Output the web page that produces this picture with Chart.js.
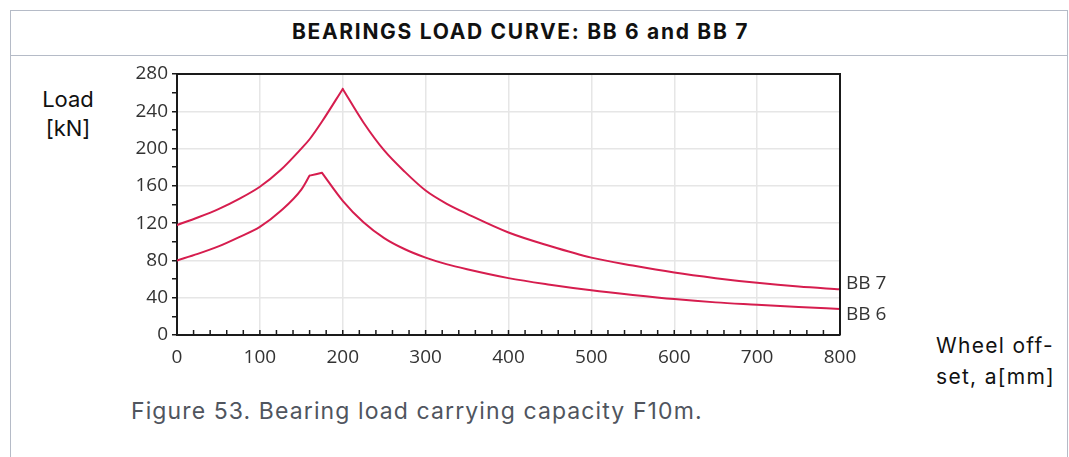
<!DOCTYPE html>
<html>
<head>
<meta charset="utf-8">
<title>Bearings load curve</title>
<script src="https://cdn.jsdelivr.net/npm/chart.js@4.4.1/dist/chart.umd.min.js"></script>
<style>
  html, body { margin: 0; padding: 0; background: #fff; }
  body { width: 1069px; height: 457px; position: relative; overflow: hidden; font-family: Inter, "Noto Sans", sans-serif; }
  .box { position: absolute; left: 10px; top: 10px; width: 1058px; height: 480px; border: 1.5px solid #b5bbc7; box-sizing: border-box; }
  .head { position: absolute; left: 10px; top: 10px; width: 1058px; height: 46px; border-bottom: 1.5px solid #b5bbc7; box-sizing: border-box; }
  .title { position: absolute; left: 10px; width: 1021px; top: 19px; text-align: center; font-weight: 700; font-size: 21px; letter-spacing: 1.7px; color: #111; }
  .ylab { position: absolute; left: 28px; width: 80px; top: 85px; text-align: center; font-size: 22px; line-height: 29px; color: #111; }
  .xlab { position: absolute; left: 936px; top: 330px; font-size: 21px; letter-spacing: 1.3px; line-height: 31px; color: #111; }
  .caption { position: absolute; left: 131px; top: 397px; font-size: 23px; letter-spacing: 1.1px; color: #50555e; }
  canvas { position: absolute; left: 0; top: 0; }
</style>
</head>
<body>
<div class="box"></div>
<div class="head"></div>
<div class="title">BEARINGS LOAD CURVE: BB 6 and BB 7</div>
<div class="ylab">Load<br>[kN]</div>
<div class="xlab">Wheel off-<br>set, a[mm]</div>
<div class="caption">Figure 53. Bearing load carrying capacity F10m.</div>
<canvas id="loadChart" width="1069" height="457"></canvas>
<script>
// wheel offset a [mm]
const offsets = [0, 25, 50, 75, 100, 125, 150, 160, 175, 200, 225, 250, 275, 300, 325, 350, 400, 450, 500, 550, 600, 650, 700, 750, 800];
// load [kN]
const bb7 = [118, 126, 135, 146, 159, 177, 200, 210, 229, 264, 228, 198, 175, 155, 141, 130, 110, 95.5, 83, 74.5, 67, 61, 56, 52, 49];
const bb6 = [80, 87, 95, 105, 116, 133, 156, 171, 174, 144, 121, 104, 92, 83, 76, 70.5, 61, 54, 48, 43, 38.5, 35, 32.5, 30, 28];
// offsets where the curves have a sharp corner
const bb7Corners = [200];
const bb6Corners = [160, 175];
const seriesNames = ['BB 7', 'BB 6'];
const xTicks = [0, 100, 200, 300, 400, 500, 600, 700, 800];
const yTicks = [0, 40, 80, 120, 160, 200, 240, 280];

const lineColor = '#d61d4e';
const tickFont = { family: '"Open Sans", "Noto Sans", sans-serif', size: 19 };

// smooth pieces, broken at the corners so the peaks stay sharp
function points(values, corners) {
  const pts = [];
  offsets.forEach((a, i) => {
    pts.push({ x: a, y: values[i] });
    if (corners.includes(a)) {
      pts.push({ x: a, y: null });
      pts.push({ x: a, y: values[i] });
    }
  });
  return pts;
}

// top and right border of the plot
const frame = {
  id: 'frame',
  afterDraw(chart) {
    const { ctx, chartArea: a } = chart;
    ctx.save();
    ctx.strokeStyle = '#1a1a1a';
    ctx.lineWidth = 2;
    ctx.beginPath();
    ctx.moveTo(a.left, a.top);
    ctx.lineTo(a.right, a.top);
    ctx.lineTo(a.right, a.bottom);
    ctx.stroke();
    // x ticks point into the plot
    const xs = chart.scales.x;
    ctx.lineWidth = 1.5;
    xs.ticks.forEach(t => {
      const px = xs.getPixelForValue(t.value);
      ctx.beginPath();
      ctx.moveTo(px, a.bottom);
      ctx.lineTo(px, a.bottom - 5);
      ctx.stroke();
    });
    ctx.restore();
  }
};

// series names at the right end of each curve
const endLabels = {
  id: 'endLabels',
  afterDatasetsDraw(chart) {
    const { ctx, chartArea: a } = chart;
    const shift = [-6, 6];
    ctx.save();
    ctx.font = tickFont.size + 'px ' + tickFont.family;
    ctx.fillStyle = '#333';
    ctx.textBaseline = 'middle';
    chart.data.datasets.forEach((ds, i) => {
      const pts = chart.getDatasetMeta(i).data;
      const last = pts[pts.length - 1];
      ctx.fillText(ds.label, a.right + 6, last.y + shift[i]);
    });
    ctx.restore();
  }
};

new Chart(document.getElementById('loadChart'), {
  type: 'line',
  data: {
    datasets: [
      { label: seriesNames[0], data: points(bb7, bb7Corners) },
      { label: seriesNames[1], data: points(bb6, bb6Corners) }
    ]
  },
  options: {
    responsive: false,
    animation: false,
    spanGaps: false,
    layout: { padding: { left: 0, right: 229, top: 74, bottom: 82 } },
    elements: {
      line: { borderColor: lineColor, borderWidth: 2, cubicInterpolationMode: 'monotone', borderCapStyle: 'round', borderJoinStyle: 'round' },
      point: { radius: 0 }
    },
    plugins: { legend: { display: false }, tooltip: { enabled: false } },
    scales: {
      x: {
        type: 'linear',
        min: xTicks[0],
        max: xTicks[xTicks.length - 1],
        afterFit: s => { s.height = 40; },
        ticks: {
          stepSize: 20, autoSkip: false, maxRotation: 0, padding: 11,
          color: '#333', font: tickFont,
          callback: v => xTicks.includes(v) ? String(v) : ''
        },
        grid: {
          drawTicks: false, lineWidth: 1.5,
          color: c => xTicks.includes(c.tick && c.tick.value) ? '#e6e6e6' : 'rgba(0,0,0,0)'
        },
        border: { color: '#1a1a1a', width: 2 }
      },
      y: {
        min: yTicks[0],
        max: yTicks[yTicks.length - 1],
        afterFit: s => { s.width = 177; },
        ticks: {
          stepSize: 20, autoSkip: false, padding: 4,
          color: '#333', font: tickFont,
          callback: v => yTicks.includes(v) ? String(v) : ''
        },
        grid: {
          tickLength: 5, tickColor: '#1a1a1a', tickWidth: 1.5, lineWidth: 1.5,
          color: c => yTicks.includes(c.tick && c.tick.value) ? '#e6e6e6' : 'rgba(0,0,0,0)'
        },
        border: { color: '#1a1a1a', width: 2 }
      }
    }
  },
  plugins: [frame, endLabels]
});
</script>
</body>
</html>
